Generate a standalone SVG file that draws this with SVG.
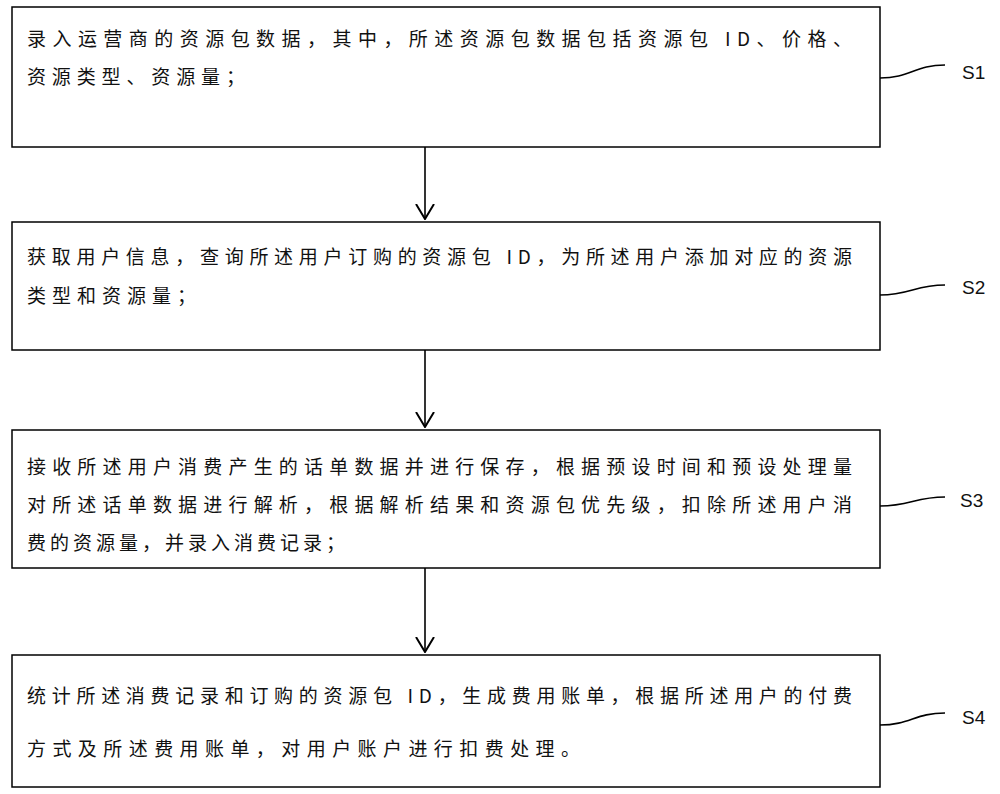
<svg xmlns="http://www.w3.org/2000/svg" width="1000" height="794" viewBox="0 0 1000 794">
<defs>
<marker id="ah" viewBox="0 0 16 20" refX="15" refY="10" markerWidth="16" markerHeight="20" markerUnits="userSpaceOnUse" orient="auto">
<path d="M0,1 L15,10 L0,19" fill="none" stroke="#000" stroke-width="2"/>
</marker>
<style>
rect{fill:#fff;stroke:#000;stroke-width:1.5}
.t{font-family:"Noto Sans CJK SC","Liberation Serif",serif;font-size:19px;fill:#111}
.l{font-family:"Liberation Sans",sans-serif;font-size:19px;fill:#111}
.c{stroke:#000;stroke-width:1.6;fill:none}
</style>
</defs>
<rect x="0" y="0" width="1000" height="794" style="stroke:none"/>
<g id="s1"><rect x="12" y="7" width="868" height="140"/>
<text class="t" x="27" y="46" textLength="825" lengthAdjust="spacing">录入运营商的资源包数据，其中，所述资源包数据包括资源包 ID、价格、</text>
<text class="t" x="27" y="84" textLength="218" lengthAdjust="spacing">资源类型、资源量；</text></g>
<g id="s2"><rect x="12" y="222" width="868" height="128"/>
<text class="t" x="27" y="264" textLength="825" lengthAdjust="spacing">获取用户信息，查询所述用户订购的资源包 ID，为所述用户添加对应的资源</text>
<text class="t" x="27" y="303" textLength="169" lengthAdjust="spacing">类型和资源量；</text></g>
<g id="s3"><rect x="12" y="430" width="868" height="138"/>
<text class="t" x="27" y="474" textLength="825" lengthAdjust="spacing">接收所述用户消费产生的话单数据并进行保存，根据预设时间和预设处理量</text>
<text class="t" x="27" y="512" textLength="825" lengthAdjust="spacing">对所述话单数据进行解析，根据解析结果和资源包优先级，扣除所述用户消</text>
<text class="t" x="27" y="550" textLength="318" lengthAdjust="spacing">费的资源量，并录入消费记录；</text></g>
<g id="s4"><rect x="12" y="655" width="868" height="132"/>
<text class="t" x="27" y="703" textLength="825" lengthAdjust="spacing">统计所述消费记录和订购的资源包 ID，生成费用账单，根据所述用户的付费</text>
<text class="t" x="27" y="756" textLength="553" lengthAdjust="spacing">方式及所述费用账单，对用户账户进行扣费处理。</text></g>
<g id="connectors">
<line class="c" x1="425" y1="147" x2="425" y2="219" marker-end="url(#ah)"/>
<line class="c" x1="425" y1="350" x2="425" y2="427" marker-end="url(#ah)"/>
<line class="c" x1="425" y1="568" x2="425" y2="652" marker-end="url(#ah)"/>
<path class="c" d="M880,78 C910,78 915,65 945,65"/>
<path class="c" d="M880,295 C910,295 915,285 945,285"/>
<path class="c" d="M880,506 C910,506 915,497 945,497"/>
<path class="c" d="M880,725 C910,725 915,713 945,713"/>
</g>
<g id="labels">
<text class="l" x="962" y="79">S1</text>
<text class="l" x="962" y="294">S2</text>
<text class="l" x="960" y="507">S3</text>
<text class="l" x="962" y="724">S4</text>
</g>
</svg>
